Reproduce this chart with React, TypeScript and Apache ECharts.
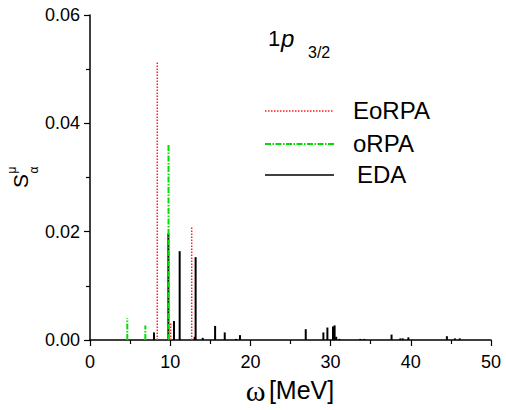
import React, { useEffect, useRef } from "react";
import * as echarts from "echarts";

// Excitation energies (MeV) and strengths
const eorpaX = [8.39, 10.06, 12.68];
const eorpaY = [0.0514, 0.0031, 0.0209];

const orpaX = [4.65, 6.9, 9.79];
const orpaY = [0.004, 0.0027, 0.0363];

const edaX = [7.98, 9.77, 10.47, 11.18, 13.05, 13.17, 14.05, 15.6, 16.8, 18.2, 18.7, 26.9, 29.1, 29.6, 30.3, 30.5, 30.7, 31.1, 33.7, 34.2, 37.6, 38.7, 39.0, 39.7, 44.5, 45.5, 46.1];
const edaY = [0.0014, 0.0197, 0.0035, 0.0164, 0.0006, 0.0153, 0.0004, 0.0026, 0.0014, 0.0002, 0.0009, 0.002, 0.0014, 0.0023, 0.0025, 0.0027, 0.0006, 0.0002, 0.0002, 0.0002, 0.001, 0.0003, 0.0003, 0.0005, 0.0007, 0.0003, 0.0003];

const xTicks = { min: 0, max: 50, interval: 10 };
const yTicks = { min: 0, max: 0.06, interval: 0.02 };

const legendNames = ["EoRPA", "oRPA", "EDA"];

const FONT = "'Liberation Sans', Arial, sans-serif";

function stickSeries(name: string, xs: number[], ys: number[], color: string, width: number, dash: number[] | null) {
  return {
    type: "custom",
    name,
    data: xs.map((x, i) => [x, ys[i]]),
    encode: { x: 0, y: 1 },
    silent: true,
    renderItem: (_params: any, api: any) => {
      const p0 = api.coord([api.value(0), 0]);
      const p1 = api.coord([api.value(0), api.value(1)]);
      return {
        type: "line",
        shape: { x1: p0[0], y1: p0[1], x2: p1[0], y2: p1[1] },
        style: { stroke: color, lineWidth: width, lineDash: dash || null, fill: null },
      };
    },
  };
}

export default function App() {
  const ref = useRef<HTMLDivElement>(null);
  useEffect(() => {
    document.body.style.margin = "0";
    const chart = echarts.init(ref.current!, null, { renderer: "svg" });
    const axisCommon = {
      type: "value",
      axisLine: { show: true, lineStyle: { color: "#000", width: 1.5 } },
      axisTick: { show: true, inside: false, length: 6, lineStyle: { color: "#000", width: 1.2 } },
      minorTick: { show: true, splitNumber: 2, length: 4, lineStyle: { color: "#000", width: 1.2 } },
      splitLine: { show: false },
      minorSplitLine: { show: false },
    };
    const legendY = [111, 144, 175];
    const legendStyles = [
      { stroke: "#ff2020", lineWidth: 1.5, lineDash: [1.5, 1.5] },
      { stroke: "#00e000", lineWidth: 2, lineDash: [6, 1.5, 1.5, 1.5] },
      { stroke: "#000", lineWidth: 1.5, lineDash: null },
    ];
    const legendGraphics: any[] = [];
    legendNames.forEach((n, i) => {
      legendGraphics.push({
        type: "line",
        shape: { x1: 265, y1: legendY[i], x2: 334, y2: legendY[i] },
        style: legendStyles[i],
      });
      legendGraphics.push({
        type: "text",
        x: i === 2 ? 357 : 353,
        y: legendY[i] - 1,
        style: { text: n, font: `24px ${FONT}`, fill: "#000", textAlign: "left", textVerticalAlign: "middle" },
      });
    });
    chart.setOption({
      animation: false,
      grid: { left: 90, right: 15, top: 15, bottom: 70 },
      xAxis: {
        ...axisCommon,
        min: xTicks.min,
        max: xTicks.max,
        interval: xTicks.interval,
        axisLabel: { fontSize: 18, color: "#000", fontFamily: FONT, margin: 13 },
      },
      yAxis: {
        ...axisCommon,
        min: yTicks.min,
        max: yTicks.max,
        interval: yTicks.interval,
        axisLabel: { fontSize: 18, color: "#000", fontFamily: FONT, margin: 10, formatter: (v: number) => v.toFixed(2) },
      },
      series: [
        stickSeries("EDA", edaX, edaY, "#000", 2, null),
        stickSeries("oRPA", orpaX, orpaY, "#00e000", 2, [6, 1.5, 1.5, 1.5]),
        stickSeries("EoRPA", eorpaX, eorpaY, "#ff2020", 1.5, [1.5, 1.5]),
      ],
      graphic: [
        ...legendGraphics,
        { type: "text", x: 268, y: 38, style: { text: "1", font: `22px ${FONT}`, fill: "#000", textVerticalAlign: "middle" } },
        { type: "text", x: 281, y: 38, style: { text: "p", font: `italic 24px ${FONT}`, fill: "#000", textVerticalAlign: "middle" } },
        { type: "text", x: 308, y: 52, style: { text: "3/2", font: `16px ${FONT}`, fill: "#000", textVerticalAlign: "middle" } },
        {
          type: "text",
          x: 290,
          y: 390,
          style: {
            text: "{w|ω} {t|[MeV]}",
            textAlign: "center",
            textVerticalAlign: "middle",
            rich: {
              w: { fontFamily: "'Liberation Serif', 'DejaVu Serif', serif", fontSize: 30, fill: "#000" },
              t: { fontFamily: FONT, fontSize: 25, fill: "#000" },
            },
          },
        },
        { type: "text", x: 20, y: 181, rotation: Math.PI / 2, style: { text: "S", font: `21px ${FONT}`, fill: "#000", textAlign: "center", textVerticalAlign: "middle" } },
        { type: "text", x: 12, y: 170, rotation: Math.PI / 2, style: { text: "μ", font: `12px ${FONT}`, fill: "#000", textAlign: "center", textVerticalAlign: "middle" } },
        { type: "text", x: 34, y: 170, rotation: Math.PI / 2, style: { text: "α", font: `12px ${FONT}`, fill: "#000", textAlign: "center", textVerticalAlign: "middle" } },
      ],
    });
    return () => chart.dispose();
  }, []);
  return <div ref={ref} style={{ width: 506, height: 410 }} />;
}
